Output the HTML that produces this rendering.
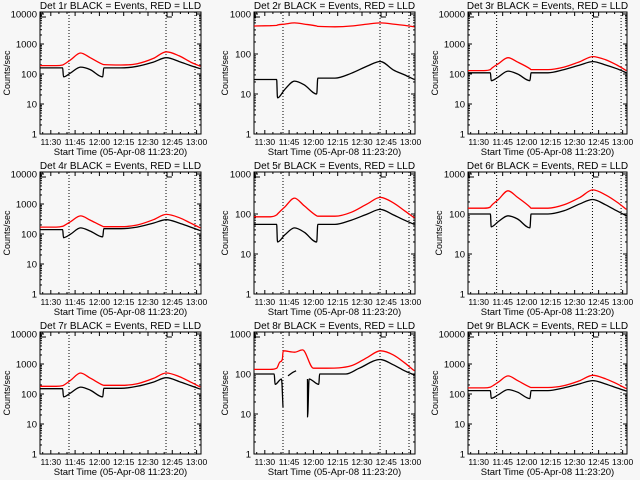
<!DOCTYPE html>
<html><head><meta charset="utf-8"><style>
html,body{margin:0;padding:0;background:#f7f7f7;}
svg{display:block;font-family:"Liberation Sans",sans-serif;}
text{font-size:10px;fill:#000;}
</style></head><body>
<svg id="chart" width="640" height="480" viewBox="0 0 640 480"></svg>
<script>
// Shared time keypoints (minutes since 11:23:20)
const times = [0,10,14,14.5,19,25,31,38.7,39.4,50,60,70,78,86,93,99];
const titles = ["Det 1r","Det 2r","Det 3r","Det 4r","Det 5r","Det 6r","Det 7r","Det 8r","Det 9r"];
const decades = [4,3,4,4,3,3,4,3,4];
const xTickLabels = ["11:30","11:45","12:00","12:15","12:30","12:45","13:00"];
const markerTimes = [17.9,77.8,95.7];
const red1 = [190,190,200,205,300,500,350,210,205,200,220,330,550,400,250,180];
const black1 = [160,160,160,80,110,170,140,80,160,160,180,250,350,260,190,150];
const red2 = [500,510,520,530,560,600,560,500,490,480,500,560,600,560,520,480];
const black2 = [23,23,23,8,13,21,17,10,25,25,33,50,65,40,30,23];
const red3 = [130,130,140,150,220,350,250,150,140,140,170,260,380,300,200,130];
const black3 = [110,110,110,60,80,125,100,60,110,110,140,200,260,200,150,110];
const red4 = [170,170,180,185,260,400,290,180,175,175,200,300,450,350,230,160];
const black4 = [140,140,140,75,100,160,125,80,150,150,170,230,300,230,170,130];
const red5 = [85,85,95,100,150,250,160,90,88,88,110,180,260,190,120,80];
const black5 = [55,55,55,20,30,45,35,20,55,55,70,100,130,95,70,55];
const red6 = [140,140,150,160,230,380,260,150,140,140,170,260,400,300,200,130];
const black6 = [100,100,100,48,65,90,75,45,100,100,120,180,230,170,120,90];
const red7 = [180,180,190,195,290,500,340,200,195,195,220,330,500,380,250,170];
const black7 = [150,150,150,80,110,170,135,80,155,155,180,250,350,260,190,145];
const red8Times = [0,10,14,16,17.5,18,25,30,36.7,45,60,70,78,86,93,99];
const red8 = [130,130,140,200,230,380,350,400,140,140,160,260,380,300,190,120];
const black8Times = [0,12.5,13,17,17.9,18,21,24,26,27,33,33.1,34,40,40.5,56.7,65,78,86,93,99];
const black8 = [100,100,55,75,15,null,90,110,120,null,75,8.5,75,55,100,100,140,230,170,120,95];
const red9 = [160,160,170,175,250,400,280,170,165,165,190,280,420,320,220,150];
const black9 = [130,130,130,72,95,140,115,70,130,130,160,220,280,215,160,125];

const reds = [red1,red2,red3,red4,red5,red6,red7,red8,red9];
const blacks = [black1,black2,black3,black4,black5,black6,black7,black8,black9];
const redTimes = [times,times,times,times,times,times,times,red8Times,times];
const blackTimes = [times,times,times,times,times,times,times,black8Times,times];

const NS="http://www.w3.org/2000/svg";
const svg=document.getElementById('chart');
function mk(tag,attrs,parent){const e=document.createElementNS(NS,tag);for(const k in attrs)e.setAttribute(k,attrs[k]);(parent||svg).appendChild(e);return e;}
const colL=[40,254,468], colR=[201,415,627];
const TMAX=99.4;

// monotone cubic path through pixel points (no overshoot)
function monoPath(P){
  const n=P.length; if(n<2) return '';
  if(n===2) return `M${P[0][0]},${P[0][1]}L${P[1][0]},${P[1][1]}`;
  const d=[],m=new Array(n);
  for(let i=0;i<n-1;i++) d.push((P[i+1][1]-P[i][1])/(P[i+1][0]-P[i][0]));
  m[0]=d[0]; m[n-1]=d[n-2];
  for(let i=1;i<n-1;i++) m[i]=(d[i-1]*d[i]<=0)?0:(d[i-1]+d[i])/2;
  for(let i=0;i<n-1;i++){
    if(d[i]===0){m[i]=0;m[i+1]=0;continue;}
    const a=m[i]/d[i],b=m[i+1]/d[i],s=a*a+b*b;
    if(s>9){const t=3/Math.sqrt(s);m[i]=t*a*d[i];m[i+1]=t*b*d[i];}
  }
  let s=`M${P[0][0].toFixed(1)},${P[0][1].toFixed(1)}`;
  for(let i=0;i<n-1;i++){
    const h=(P[i+1][0]-P[i][0])/3;
    s+=`C${(P[i][0]+h).toFixed(1)},${(P[i][1]+m[i]*h).toFixed(1)} ${(P[i+1][0]-h).toFixed(1)},${(P[i+1][1]-m[i+1]*h).toFixed(1)} ${P[i+1][0].toFixed(1)},${P[i+1][1].toFixed(1)}`;
  }
  return s;
}

for(let p=0;p<9;p++){
  const c=p%3, r=Math.floor(p/3);
  const oy=r*160;
  const L=colL[c], R=colR[c], T=oy+12, B=oy+134;
  const nd=decades[p];
  const dec=(B-(oy+14))/nd;
  const xs=t=>L+t*(R-L)/TMAX;
  const ys=v=>B-Math.log10(v)*dec;
  const g=mk('g',{});
  
  
  const box=mk('rect',{x:L,y:T,width:R-L,height:B-T,fill:'none',stroke:'#000','stroke-width':1},g);
  
  
  for(let d=0;d<=nd;d++){
    const y=ys(Math.pow(10,d));
    if(y>=T-0.5){
      mk('line',{x1:L,x2:L+4,y1:y,y2:y,stroke:'#000'},g);
      mk('line',{x1:R-4,x2:R,y1:y,y2:y,stroke:'#000'},g);
      const lab=mk('text',{x:L-3,y:y+3.5,'text-anchor':'end',style:'font-size:9.5px'},g);
      lab.textContent=String(Math.pow(10,d));
      
      
    }
    if(d<nd){for(let m=2;m<=9;m++){const y2=ys(m*Math.pow(10,d));
      mk('line',{x1:L,x2:L+2,y1:y2,y2:y2,stroke:'#000'},g);
      mk('line',{x1:R-2,x2:R,y1:y2,y2:y2,stroke:'#000'},g);}}
  }
  for(let t=1.67;t<TMAX;t+=5){
    const x=xs(t); const major=Math.abs(((t-6.67)/15)-Math.round((t-6.67)/15))<0.01;
    const len=major?4:2;
    mk('line',{x1:x,x2:x,y1:B,y2:B-len,stroke:'#000'},g);
    mk('line',{x1:x,x2:x,y1:T,y2:T+len,stroke:'#000'},g);
  }
  xTickLabels.forEach((s,i)=>{
    const lab=mk('text',{x:xs(6.67+15*i),y:oy+145,'text-anchor':'middle',style:'font-size:8.5px'},g);
    lab.textContent=s;
    
    
  });
  const xt=mk('text',{x:(L+R)/2,y:oy+155,'text-anchor':'middle',style:'font-size:9.5px'},g);
  xt.textContent='Start Time (05-Apr-08 11:23:20)';
  
  
  const yt=mk('text',{x:0,y:0,'text-anchor':'middle',transform:`translate(${L-(nd==4?30:26)},${(T+B)/2}) rotate(-90)`,style:'font-size:9px'},g);
  yt.textContent='Counts/sec';
  
  
  const tt=mk('text',{x:(L+R)/2,y:oy+9,'text-anchor':'middle'},g);
  tt.textContent=titles[p]+' BLACK = Events, RED = LLD';
  
  
  markerTimes.forEach(t=>{
    const ln=mk('line',{x1:xs(t),x2:xs(t),y1:T,y2:B,stroke:'#000','stroke-dasharray':'1,2'},g);
    
    
  });
  [L+1,xs(markerTimes[1])+1].forEach(x=>{
    mk('path',{d:`M${x},${T}V${T+5}H${x+5}`,fill:'none',stroke:'#000'},g);
  });
  function drawSeries(ts,vs,color,name){
    let segs=[],cur=[];
    for(let i=0;i<ts.length;i++){
      if(vs[i]==null){if(cur.length)segs.push(cur);cur=[];continue;}
      cur.push([xs(ts[i]),ys(vs[i])]);
    }
    if(cur.length)segs.push(cur);
    segs.forEach(s=>{
      const pl=mk('path',{d:monoPath(s),fill:'none',stroke:color,'stroke-width':1.3},g);
      
      
    });
  }
  drawSeries(redTimes[p],reds[p],'#ff0000','lld-series');
  drawSeries(blackTimes[p],blacks[p],'#000000','events-series');
}
</script>
</body></html>
